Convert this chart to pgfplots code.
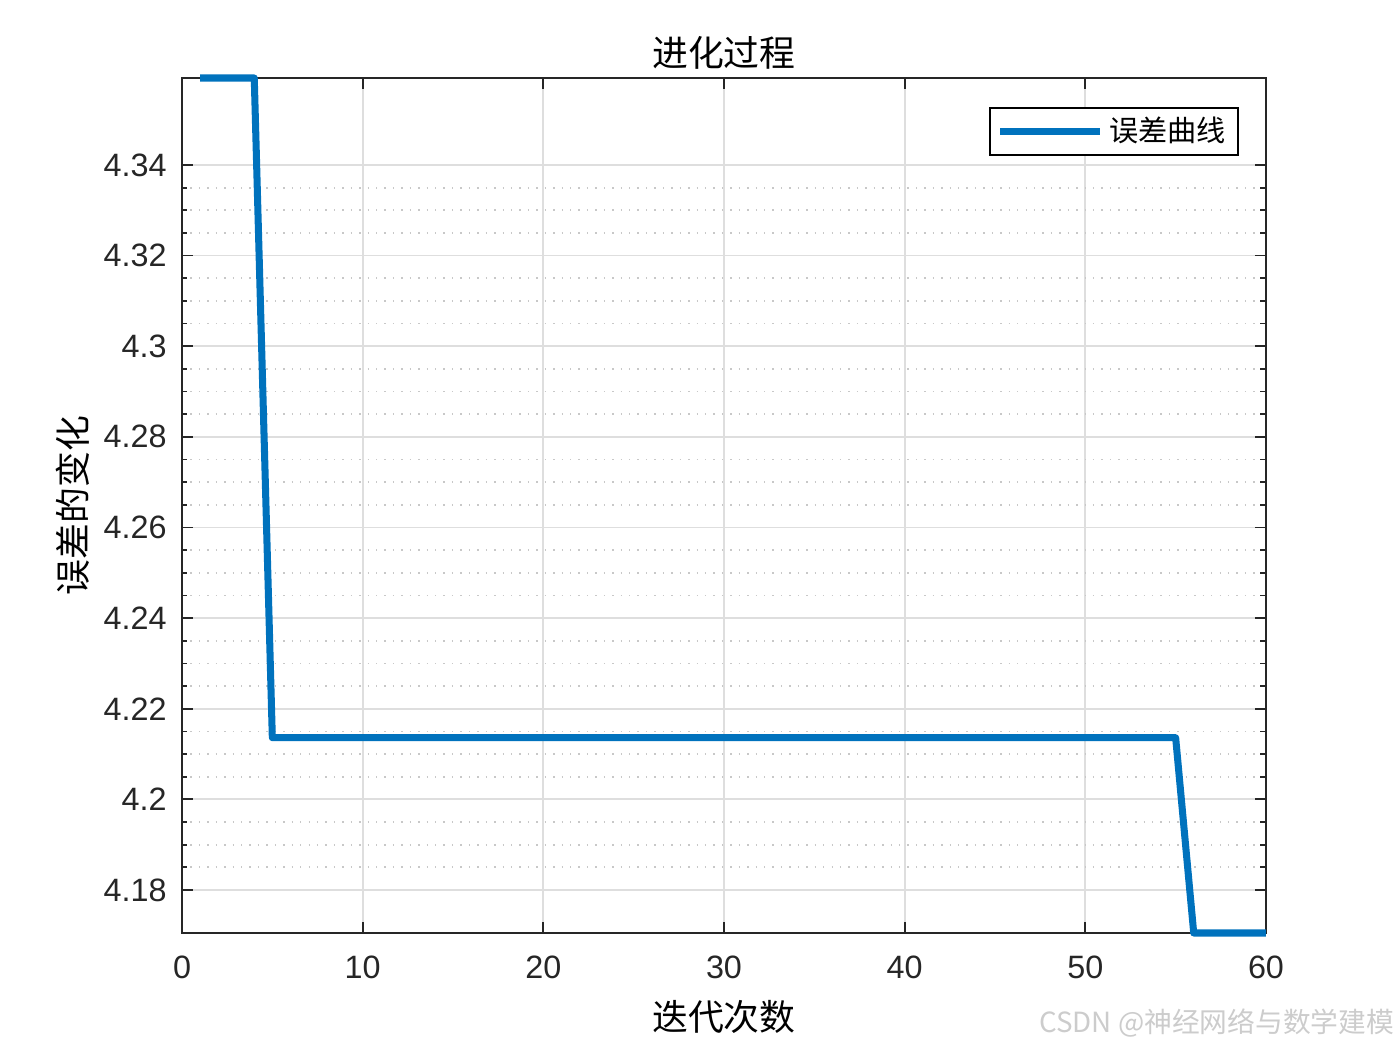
\documentclass[border=0pt]{standalone}
\usepackage{pgfplots}
\pgfplotsset{compat=1.18}
\usepackage{fontspec}
\setmainfont{Liberation Sans}
\newfontfamily\cjk{Noto Sans CJK SC}

\definecolor{mblue}{RGB}{0,114,189}
\definecolor{gridmajor}{RGB}{222,222,222}
\definecolor{gridminor}{RGB}{200,200,200}
\definecolor{axcol}{RGB}{38,38,38}

\begin{document}
\begin{tikzpicture}
\begin{axis}[
  at={(0,0)}, anchor=south west,
  scale only axis,
  width=10.84cm, height=8.55cm,
  xmin=0, xmax=60,
  ymin=4.1705, ymax=4.3592,
  xtick={0,10,...,60},
  ytick={4.18,4.2,4.22,4.24,4.26,4.28,4.3,4.32,4.34},
  minor y tick num=3,
  yticklabel style={/pgf/number format/fixed,/pgf/number format/precision=2},
  /pgf/number format/assume math mode=true,
  tick label style={font=\fontsize{9.2pt}{11pt}\selectfont, color=axcol},
  tick align=inside,
  major tick length=0.11cm,
  minor tick length=0.055cm,
  tick style={color=axcol, line width=0.5pt},
  axis line style={color=axcol, line width=0.6pt},
  grid=both,
  major grid style={color=gridmajor, line width=0.5pt},
  minor grid style={color=gridminor, dotted, line width=0.5pt},
  xticklabel style={yshift=-0.1cm},
  yticklabel style={xshift=-0.03cm},
  every axis title shift=0pt,
  title={\cjk 进化过程},
  title style={font=\fontsize{10.2pt}{12pt}\selectfont, at={(axis description cs:0.5,1.029)}, anchor=center},
  xlabel={\cjk 迭代次数},
  xlabel style={font=\fontsize{10.2pt}{12pt}\selectfont, at={(axis description cs:0.5,-0.0982)}, anchor=center},
  ylabel={\cjk 误差的变化},
  ylabel style={font=\fontsize{10.2pt}{12pt}\selectfont, at={(axis description cs:-0.1006,0.5)}, anchor=center, rotate=0},
  clip=false,
  legend style={at={(0.975,0.966)}, anchor=north east, draw=black, line width=0.5pt,
    font=\fontsize{8.3pt}{10pt}\selectfont\cjk, inner xsep=2pt, inner ysep=1pt,
    nodes={inner sep=1.5pt}},
  legend cell align=left,
  legend image code/.code={\draw[#1] (0cm,0cm) -- (1.0cm,0cm);},
]
\addplot[color=mblue, line width=2pt, line join=round] coordinates {
  (1,4.3592) (2,4.3592) (3,4.3592) (4,4.3592)
  (5,4.2136) (10,4.2136) (20,4.2136) (30,4.2136) (40,4.2136) (50,4.2136) (55,4.2136)
  (56,4.1705) (57,4.1705) (58,4.1705) (59,4.1705) (60,4.1705)
};
\addlegendentry{误差曲线}
\end{axis}
\node[text=gray!40, font=\fontsize{7.9pt}{10pt}\selectfont\cjk, anchor=east, inner sep=0pt] at (12.13,-0.9) {CSDN @神经网络与数学建模};
\useasboundingbox (-1.82,-1.17) rectangle (12.18,9.33);
\end{tikzpicture}
\end{document}
